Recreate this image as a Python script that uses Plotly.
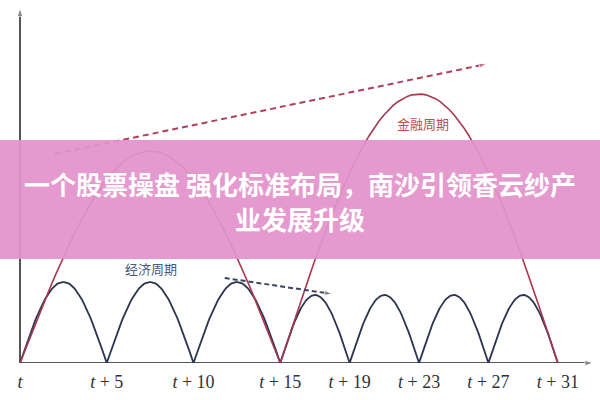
import numpy as np
import plotly.graph_objects as go

# ---- data ----
tick_vals = [0, 5, 10, 15, 19, 23, 27, 31]
tick_text = ["<i>t</i>", "<i>t</i> + 5", "<i>t</i> + 10", "<i>t</i> + 15",
             "<i>t</i> + 19", "<i>t</i> + 23", "<i>t</i> + 27", "<i>t</i> + 31"]
econ_bounds = [0, 5, 10, 15, 19, 23, 27, 31]
econ_peaks = [81, 81, 81, 68, 68, 68, 68]
fin_bounds = [0, 15, 31]
fin_peaks = [212, 269]
fin_trend = ([2.0, 26.9], [209, 299])
econ_trend = ([11.8, 18.0], [85, 69])
title_lines = ["一个股票操盘 强化标准布局，南沙引领香云纱产", "业发展升级"]

RED = "#A8374F"
NAVY = "#2B3550"
AX = "#555555"

def arcs(bounds, peaks, n=60):
    xs, ys = [], []
    for a, b, h in zip(bounds[:-1], bounds[1:], peaks):
        s = np.linspace(0, 1, n)
        xs.extend(list(a + (b - a) * s))
        ys.extend(list(h * np.sin(np.pi * s)))
    return xs, ys

fig = go.Figure()

# axes with arrows
fig.add_trace(go.Scatter(x=[0, 33.05], y=[0, 0], mode="lines+markers",
                         line=dict(color=AX, width=2),
                         marker=dict(symbol="arrow", angleref="previous", size=[0, 9], color=AX),
                         hoverinfo="skip", cliponaxis=False))
fig.add_trace(go.Scatter(x=[0, 0], y=[0, 355], mode="lines+markers",
                         line=dict(color=AX, width=2),
                         marker=dict(symbol="arrow", angleref="previous", size=[0, 9], color=AX),
                         hoverinfo="skip", cliponaxis=False))

ex, ey = arcs(econ_bounds, econ_peaks)
fig.add_trace(go.Scatter(x=ex, y=ey, mode="lines", line=dict(color=NAVY, width=1.8),
                         hoverinfo="skip", cliponaxis=False))
fx, fy = arcs(fin_bounds, fin_peaks)
fig.add_trace(go.Scatter(x=fx, y=fy, mode="lines", line=dict(color=RED, width=1.6),
                         hoverinfo="skip", cliponaxis=False))

fig.add_trace(go.Scatter(x=fin_trend[0], y=fin_trend[1], mode="lines+markers",
                         line=dict(color="#B0405A", width=2, dash="6px,4px"),
                         marker=dict(symbol="arrow", angleref="previous", size=[0, 8], color="#B0405A"),
                         hoverinfo="skip"))
fig.add_trace(go.Scatter(x=econ_trend[0], y=econ_trend[1], mode="lines+markers",
                         line=dict(color="#3A4560", width=2, dash="5px,3px"),
                         marker=dict(symbol="arrow", angleref="previous", size=[0, 8], color="#3A4560"),
                         hoverinfo="skip"))

fig.add_annotation(x=23.2, y=240, text="金融周期", showarrow=False,
                   font=dict(family="Noto Sans CJK SC", size=13, color="#C0504D"))
fig.add_annotation(x=7.55, y=95, text="经济周期", showarrow=False,
                   font=dict(family="Noto Sans CJK SC", size=13, color="#4A5A7A"))

# banner
fig.add_shape(type="rect", xref="paper", yref="y", x0=0, x1=1, y0=104, y1=223,
              fillcolor="rgba(226,146,202,0.93)", line=dict(width=0), layer="above")
fig.add_annotation(xref="paper", x=0.5, y=180, text=title_lines[0], showarrow=False,
                   font=dict(family="Noto Sans CJK SC", size=26, color="white", weight="bold"))
fig.add_annotation(xref="paper", x=0.5, y=145, text=title_lines[1], showarrow=False,
                   font=dict(family="Noto Sans CJK SC", size=26, color="white", weight="bold"))

fig.update_layout(
    width=600, height=400, margin=dict(l=0, r=0, t=0, b=37),
    paper_bgcolor="white", plot_bgcolor="white", showlegend=False,
    xaxis=dict(range=[-20 / 17.35, 580 / 17.35], showgrid=False, zeroline=False,
               showline=False, tickvals=tick_vals, ticktext=tick_text, ticks="",
               ticklabelstandoff=6, automargin=False,
               tickfont=dict(family="Liberation Serif", size=18, color="#333333")),
    yaxis=dict(range=[0, 363], showgrid=False, zeroline=False, showline=False,
               showticklabels=False, ticks="", automargin=False),
)

fig.write_html("out.html", config={"displayModeBar": False},
               post_script="document.body.style.margin='0';document.body.style.overflow='hidden';")
